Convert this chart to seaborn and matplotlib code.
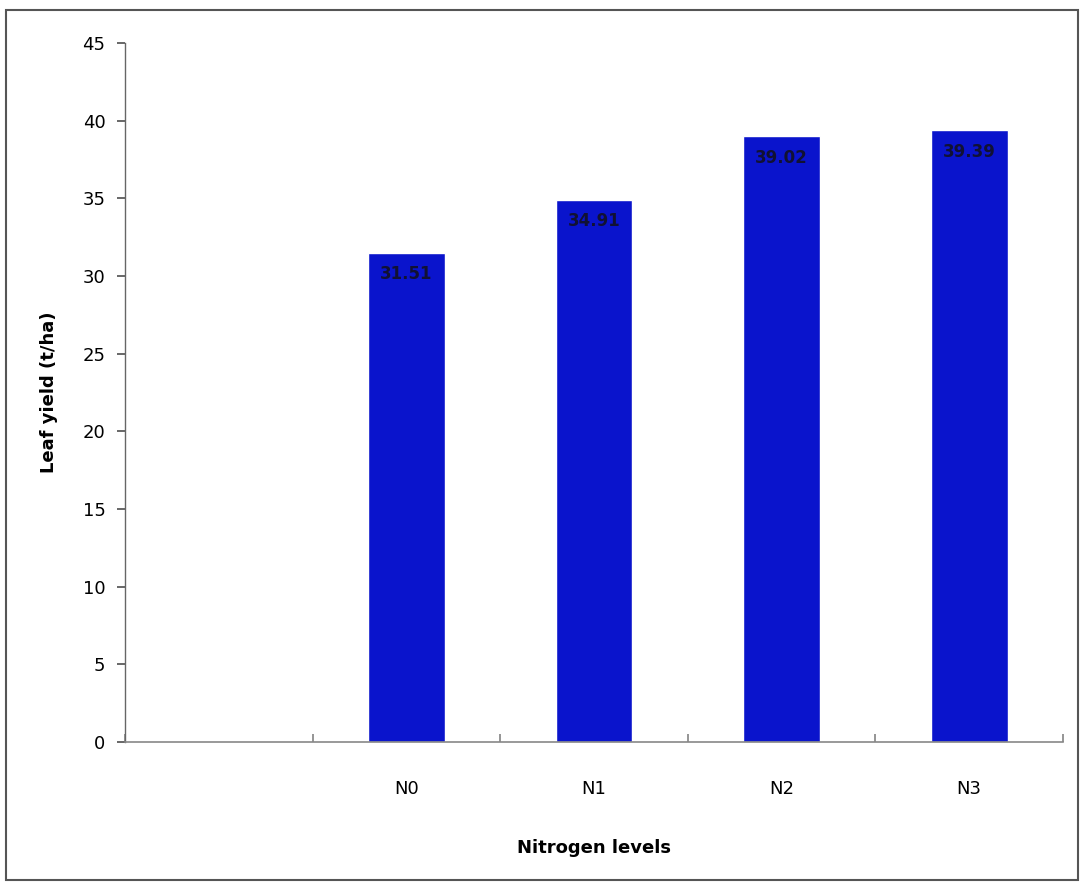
import matplotlib
matplotlib.use("Agg")
import matplotlib.pyplot as plt
import matplotlib.patches as mpatches
import seaborn as sns
import pandas as pd

# Leaf yield by nitrogen level
levels = ["N0", "N1", "N2", "N3"]
yield_t_ha = [31.51, 34.91, 39.02, 39.39]
slots = [" "] + levels  # leading empty category slot
y_ticks = [0, 5, 10, 15, 20, 25, 30, 35, 40, 45]

sns.set_theme(style="white")
plt.rcParams["font.family"] = ["DejaVu Sans"]

df = pd.DataFrame({"level": levels, "yield": yield_t_ha})

fig = plt.figure(figsize=(10.84, 8.84), dpi=100)
ax = fig.add_axes([125 / 1084, 1 - 742 / 884, (1063 - 125) / 1084, (742 - 43) / 884])

sns.barplot(data=df, x="level", y="yield", order=slots, color="#0A14CC",
            saturation=1, width=0.41, ax=ax)

# value labels just inside the top of each bar
for i, v in enumerate(yield_t_ha):
    ax.text(i + 1, v - 1.4, f"{v:.2f}", ha="center", va="center",
            fontsize=12, fontweight="bold", color="#111133")

ax.set_xlim(-0.5, len(slots) - 0.5)
ax.set_ylim(0, 45)
ax.set_yticks(y_ticks)
ax.set_yticklabels([str(t) for t in y_ticks], fontsize=13, color="black")

# category boundaries get tick marks, labels sit between them
ax.set_xticks([i - 0.5 for i in range(len(slots) + 1)])
ax.set_xticklabels([])
ax.set_xticks(list(range(len(slots))), minor=True)
ax.set_xticklabels(slots, minor=True, fontsize=13, color="black")
ax.tick_params(axis="x", which="minor", length=0, pad=27)
ax.tick_params(axis="x", which="major", length=6, direction="in", color="#888888", bottom=True)
ax.tick_params(axis="y", length=6, direction="out", color="#555555", left=True, pad=8)

ax.set_xlabel("Nitrogen levels", fontsize=13, fontweight="bold", labelpad=30, color="black")
ax.set_ylabel("Leaf yield (t/ha)", fontsize=13, fontweight="bold", labelpad=18, color="black")

for s in ["top", "right"]:
    ax.spines[s].set_visible(False)
ax.spines["left"].set_color("#666666")
ax.spines["bottom"].set_color("#888888")
ax.spines["left"].set_linewidth(1.0)
ax.spines["bottom"].set_linewidth(1.2)

# outer frame around the chart area
fig.patches.append(mpatches.Rectangle((6 / 1084, 4 / 884), 1 - 12 / 1084, 1 - 14 / 884,
                                      transform=fig.transFigure, fill=False,
                                      edgecolor="#555555", linewidth=1.5))

fig.savefig("out.png", dpi=100)
